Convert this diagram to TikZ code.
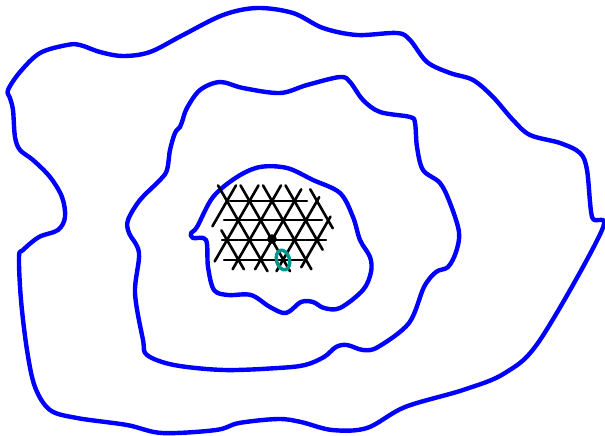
\documentclass[tikz,border=0pt]{standalone}
\begin{document}
\begin{tikzpicture}[x=1pt,y=-1pt,
  contour/.style={blue,line width=4.4pt,line cap=round,line join=round},
  lattice/.style={black,line width=2.6pt,line cap=round}]
  \useasboundingbox (0,0) rectangle (605,436);
  % outer contour
  \draw[contour] plot[smooth cycle,tension=0.55] coordinates{
    (8,90) (20,72) (40,53) (67,45) (80,45) (100,52) (123,56) (150,52) (183,35)
    (223,15) (257,8) (293,13) (323,28) (357,35) (397,33) (410,40) (427,62)
    (450,73) (473,80) (493,97) (513,120) (530,135) (560,143) (580,153) (587,170)
    (592,217) (602,230) (540,340) (505,373) (463,390) (405,407) (367,428)
    (332,430) (301,422) (278,419) (239,423) (216,430) (162,433) (127,425)
    (77,418) (50,410) (35,387) (27,350) (21,300) (19,257) (23,250) (39,237)
    (58,230) (65,217) (62,197) (50,177) (33,160) (20,150) (15,137) (13,110) (10,98)};
  % middle contour
  \draw[contour] plot[smooth cycle,tension=0.55] coordinates{
    (182,122) (187,108) (200,90) (220,82) (243,88) (280,93) (307,85) (340,77)
    (350,82) (363,100) (380,112) (410,117) (415,123) (417,147) (423,170)
    (440,183) (450,203) (459,232) (456,252) (448,267) (436,272) (424,287)
    (409,323) (378,347) (363,350) (347,345) (336,347) (324,357) (305,365)
    (278,368) (224,370) (174,365) (147,355) (143,340) (135,293) (139,253)
    (129,233) (128,220) (140,200) (160,180) (167,170) (170,150) (175,133) (180,127)};
  % inner contour
  \draw[contour] plot[smooth cycle,tension=0.55] coordinates{
    (191,233) (197,227) (213,197) (237,177) (260,167) (287,168) (313,180)
    (340,193) (353,217) (360,240) (370,257) (371,272) (363,290) (340,308)
    (324,308) (313,302) (301,302) (286,313) (270,307) (251,295) (228,295)
    (214,290) (208,267) (206,240) (193,238)};
  % triangular lattice
  \foreach \y/\a/\b in {201/230/307,220/224/322,240/222/326,260/224/303}
    \draw[lattice] (\a,\y) -- (\b,\y);
  \foreach \k/\p/\q in {-3/0.7/2.8,-2/-1.1/2.8,-1/-1.5/2.8,0/-1.5/2.6,1/-1.6/2.2,2/-1.4/1.2}
    \draw[lattice] ({272+22.5*\k+11.25*\p},{240-19.5*\p}) -- ({272+22.5*\k+11.25*\q},{240-19.5*\q});
  \foreach \k/\p/\q in {-2/-1.5/0.5,-1/-1.6/2.8,0/-1.6/2.8,1/-1.5/2.8,2/-0.5/2.8,3/0.6/2.6}
    \draw[lattice] ({272+22.5*\k-11.25*\p},{240-19.5*\p}) -- ({272+22.5*\k-11.25*\q},{240-19.5*\q});
  \fill (272,239) circle (4.8);
  \draw[color={rgb,255:red,0;green,150;blue,140},line width=3.4pt,rotate around={15:(283,260)}] (283,260) ellipse (6.5 and 10);
\end{tikzpicture}
\end{document}
